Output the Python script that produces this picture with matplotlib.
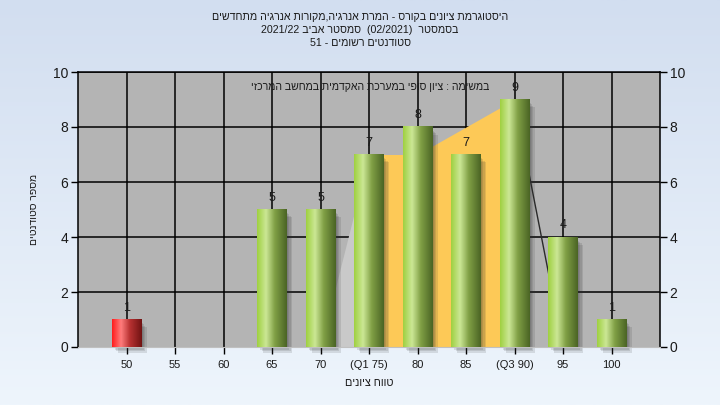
import re
import numpy as np
import matplotlib
matplotlib.use("Agg")
import matplotlib.pyplot as plt
from matplotlib.colors import LinearSegmentedColormap

plt.rcParams['font.family'] = ['Liberation Sans', 'DejaVu Sans']

# ---------------- data ----------------
categories = ["50", "55", "60", "65", "70", "(Q1 75)", "80", "85", "(Q3 90)", "95", "100"]
counts = [1, 0, 0, 5, 5, 7, 8, 7, 9, 4, 1]
fail_flags = [True, False, False, False, False, False, False, False, False, False, False]
# inter-quartile band (category index -> height)
iqr_idx = [5, 6, 7, 8]
iqr_vals = [7, 7, 8, 9]
# rising / falling edges of the distribution shape
left_edge_idx = [4, 5]
left_edge_vals = [0, 7]
right_edge_idx = [8, 9]
right_edge_vals = [9, 0]

title_lines = [
    "היסטוגרמת ציונים בקורס - המרת אנרגיה,מקורות אנרגיה מתחדשים",
    "בסמסטר  (02/2021)  סמסטר אביב 2021/22",
    "סטודנטים רשומים - 51",
]
note_text = "במשימה : ציון סופי במערכת האקדמית במחשב המרכזי"
xlabel_text = "טווח ציונים"
ylabel_text = "מספר סטודנטים"


def vis(s):
    """Convert logical-order RTL text to visual order for LTR renderer."""
    toks = re.findall(r'[0-9A-Za-z]+(?:[/.,][0-9A-Za-z]+)*|.', s, re.S)
    toks = toks[::-1]
    mirror = {'(': ')', ')': '('}
    return ''.join(mirror.get(t, t) for t in toks)


fig = plt.figure(figsize=(7.2, 4.05), dpi=100)

# background gradient
bg = fig.add_axes([0, 0, 1, 1], zorder=-10)
bgcmap = LinearSegmentedColormap.from_list('bg', ['#eef5fc', '#d2def0'])
bg.imshow(np.linspace(0, 1, 256).reshape(-1, 1)[::-1], cmap=bgcmap, aspect='auto',
          extent=[0, 1, 0, 1])
bg.set_axis_off()

ax = fig.add_axes([78 / 720, 1 - 347 / 405, 582 / 720, 275 / 405])
ax.set_facecolor('#b4b4b4')

x = np.arange(len(categories))

# grid
for xi in x:
    ax.axvline(xi, color='black', lw=1.1, zorder=1)
for yv in [2, 4, 6, 8, 10]:
    ax.axhline(yv, color='black', lw=1.1, zorder=1)

# distribution shape
ax.fill_between(left_edge_idx, 0, left_edge_vals, color='#c9c9c9', lw=0, zorder=2)
ax.fill_between(iqr_idx, 0, iqr_vals, color='#fdc957', lw=0, zorder=2)
ax.plot(right_edge_idx, right_edge_vals, color='#2a2a2a', lw=1.0, zorder=2)

green = LinearSegmentedColormap.from_list('g', [(0, '#9fd040'), (0.3, '#cbe795'),
                                                (0.6, '#809f45'), (1, '#4a6424')])
red = LinearSegmentedColormap.from_list('r', [(0, '#ff1c1c'), (0.3, '#ff7c7c'),
                                              (0.6, '#b83232'), (1, '#701212')])
grad = np.linspace(0, 1, 128).reshape(1, -1)
bw = 0.6
for xi, v, f in zip(x, counts, fail_flags):
    if v <= 0:
        continue
    x0, x1 = xi - bw / 2, xi + bw / 2
    # soft shadow
    for k in range(4):
        dx = 0.03 * (k + 1)
        dy = 0.05 * (k + 1)
        ax.add_patch(plt.Rectangle((x0 + dx, -dy), bw, v - 0.08,
                                   facecolor='#303030', alpha=0.13, lw=0,
                                   zorder=2.5, clip_on=False))
    ax.imshow(grad, cmap=red if f else green, aspect='auto',
              extent=[x0, x1, 0, v], zorder=3)
    ax.text(xi, v + 0.42, str(v), ha='center', va='center', fontsize=9,
            color='#1a1a1a', zorder=4)

ax.set_xlim(-1, 11)
ax.set_ylim(0, 10)
ax.set_xticks(x)
ax.set_xticklabels(categories, fontsize=8)
ax.set_yticks([0, 2, 4, 6, 8, 10])
ax.tick_params(axis='y', labelsize=10, length=5, width=1, colors='black',
               labelcolor='#1a1a1a', left=True, right=True, labelleft=True,
               labelright=True, pad=2)
ax.tick_params(axis='x', length=5, width=1, colors='black', labelcolor='#1a1a1a', pad=4)
for s in ['left', 'right', 'top']:
    ax.spines[s].set_color('black')
    ax.spines[s].set_linewidth(1.1)
ax.spines['bottom'].set_color('#c0c0c0')

ax.set_xlabel(vis(xlabel_text), fontsize=7.8, color='#1a1a1a', labelpad=6)
ax.set_ylabel(vis(ylabel_text), fontsize=7.5, color='#1a1a1a', labelpad=10)

for i, (ln, yp) in enumerate(zip(title_lines, [17, 30, 43])):
    fig.text(0.5, 1 - yp / 405, vis(ln), ha='center', va='center', fontsize=7.7,
             color='#1a1a1a')

fig.text(370 / 720, 1 - 87 / 405, vis(note_text), ha='center', va='center',
         fontsize=7.6, color='#1a1a1a')

fig.savefig('out.png', dpi=100)
